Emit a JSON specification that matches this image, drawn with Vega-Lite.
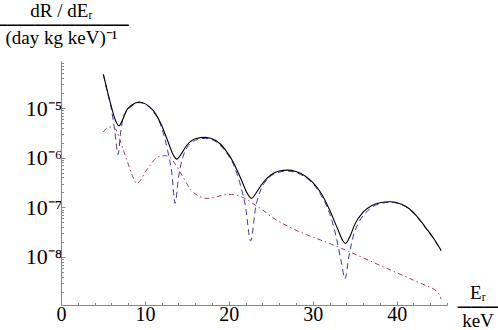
{
  "$schema": "https://vega.github.io/schema/vega-lite/v6.json",
  "width": 386,
  "height": 244,
  "autosize": {"type": "none"},
  "padding": {"left": 61, "top": 61, "right": 51, "bottom": 25},
  "background": "white",
  "config": {"view": {"stroke": null}, "axisY": {"labelFontSize": 22}},
  "datasets": {
    "total": [
      {"E": 5.05, "rate": 4.79e-5}, {"E": 5.5, "rate": 2.29e-5}, {"E": 6.0, "rate": 1.07e-5}, {"E": 6.5, "rate": 5.62e-6},
      {"E": 6.9, "rate": 4.37e-6}, {"E": 7.3, "rate": 5.62e-6}, {"E": 7.8, "rate": 8.91e-6}, {"E": 8.5, "rate": 1.17e-5},
      {"E": 9.3, "rate": 1.32e-5}, {"E": 10.0, "rate": 1.23e-5}, {"E": 11.0, "rate": 8.91e-6}, {"E": 12.0, "rate": 4.47e-6},
      {"E": 12.8, "rate": 2.0e-6}, {"E": 13.4, "rate": 1.12e-6}, {"E": 13.8, "rate": 9.33e-7}, {"E": 14.3, "rate": 1.17e-6},
      {"E": 15.0, "rate": 1.78e-6}, {"E": 16.0, "rate": 2.40e-6}, {"E": 17.2, "rate": 2.57e-6}, {"E": 18.5, "rate": 2.19e-6},
      {"E": 19.5, "rate": 1.51e-6}, {"E": 20.5, "rate": 8.32e-7}, {"E": 21.5, "rate": 3.55e-7}, {"E": 22.2, "rate": 1.91e-7},
      {"E": 22.7, "rate": 1.51e-7}, {"E": 23.3, "rate": 2.0e-7}, {"E": 24.0, "rate": 3.02e-7}, {"E": 25.0, "rate": 4.47e-7},
      {"E": 26.0, "rate": 5.37e-7}, {"E": 27.0, "rate": 5.62e-7}, {"E": 28.0, "rate": 5.25e-7}, {"E": 29.0, "rate": 4.37e-7},
      {"E": 30.0, "rate": 3.16e-7}, {"E": 31.0, "rate": 1.91e-7}, {"E": 32.0, "rate": 8.91e-8}, {"E": 33.0, "rate": 3.55e-8},
      {"E": 33.6, "rate": 2.09e-8}, {"E": 33.9, "rate": 1.86e-8}, {"E": 34.4, "rate": 2.51e-8}, {"E": 35.0, "rate": 4.47e-8},
      {"E": 36.0, "rate": 7.94e-8}, {"E": 37.0, "rate": 1.07e-7}, {"E": 38.0, "rate": 1.23e-7}, {"E": 39.2, "rate": 1.29e-7},
      {"E": 40.5, "rate": 1.17e-7}, {"E": 41.5, "rate": 9.33e-8}, {"E": 42.5, "rate": 6.31e-8}, {"E": 43.5, "rate": 3.80e-8},
      {"E": 44.5, "rate": 2.24e-8}, {"E": 45.3, "rate": 1.35e-8}
    ],
    "dashed": [
      {"E": 5.05, "rate": 4.68e-5}, {"E": 5.5, "rate": 2.19e-5}, {"E": 6.0, "rate": 9.55e-6}, {"E": 6.4, "rate": 3.55e-6},
      {"E": 6.8, "rate": 1.15e-6}, {"E": 7.1, "rate": 3.16e-6}, {"E": 7.4, "rate": 6.31e-6}, {"E": 7.8, "rate": 8.51e-6},
      {"E": 8.5, "rate": 1.12e-5}, {"E": 9.3, "rate": 1.29e-5}, {"E": 10.0, "rate": 1.20e-5}, {"E": 11.0, "rate": 8.51e-6},
      {"E": 12.0, "rate": 3.98e-6}, {"E": 12.7, "rate": 1.41e-6}, {"E": 13.2, "rate": 5.01e-7}, {"E": 13.6, "rate": 1.20e-7},
      {"E": 14.0, "rate": 3.98e-7}, {"E": 14.5, "rate": 1.0e-6}, {"E": 15.0, "rate": 1.58e-6}, {"E": 16.0, "rate": 2.24e-6},
      {"E": 17.2, "rate": 2.45e-6}, {"E": 18.5, "rate": 2.09e-6}, {"E": 19.5, "rate": 1.41e-6}, {"E": 20.5, "rate": 7.59e-7},
      {"E": 21.3, "rate": 3.16e-7}, {"E": 22.0, "rate": 1.0e-7}, {"E": 22.6, "rate": 2.09e-8}, {"E": 23.2, "rate": 1.0e-7},
      {"E": 23.8, "rate": 2.24e-7}, {"E": 24.5, "rate": 3.55e-7}, {"E": 25.5, "rate": 4.79e-7}, {"E": 27.0, "rate": 5.37e-7},
      {"E": 28.0, "rate": 5.01e-7}, {"E": 29.0, "rate": 4.17e-7}, {"E": 30.0, "rate": 3.02e-7}, {"E": 31.0, "rate": 1.74e-7},
      {"E": 32.0, "rate": 7.59e-8}, {"E": 32.8, "rate": 2.51e-8}, {"E": 33.4, "rate": 7.94e-9}, {"E": 33.85, "rate": 3.63e-9},
      {"E": 34.3, "rate": 1.0e-8}, {"E": 34.8, "rate": 2.51e-8}, {"E": 35.5, "rate": 5.01e-8}, {"E": 36.5, "rate": 8.32e-8},
      {"E": 37.5, "rate": 1.10e-7}, {"E": 39.2, "rate": 1.26e-7}, {"E": 40.5, "rate": 1.15e-7}, {"E": 41.5, "rate": 9.12e-8},
      {"E": 42.5, "rate": 6.17e-8}, {"E": 43.5, "rate": 3.72e-8}, {"E": 44.5, "rate": 2.19e-8}, {"E": 45.3, "rate": 1.32e-8}
    ],
    "dotdashed": [
      {"E": 5.05, "rate": 3.31e-6}, {"E": 5.5, "rate": 3.98e-6}, {"E": 6.0, "rate": 4.17e-6}, {"E": 6.5, "rate": 3.80e-6},
      {"E": 7.0, "rate": 2.34e-6}, {"E": 7.5, "rate": 1.32e-6}, {"E": 8.0, "rate": 7.59e-7}, {"E": 8.5, "rate": 4.37e-7},
      {"E": 9.0, "rate": 3.02e-7}, {"E": 9.5, "rate": 3.55e-7}, {"E": 10.0, "rate": 5.01e-7}, {"E": 10.6, "rate": 6.92e-7},
      {"E": 11.2, "rate": 9.33e-7}, {"E": 11.8, "rate": 1.07e-6}, {"E": 12.4, "rate": 1.10e-6}, {"E": 13.0, "rate": 1.0e-6},
      {"E": 13.7, "rate": 7.08e-7}, {"E": 14.5, "rate": 4.17e-7}, {"E": 15.5, "rate": 2.24e-7}, {"E": 16.5, "rate": 1.66e-7},
      {"E": 17.4, "rate": 1.51e-7}, {"E": 18.5, "rate": 1.62e-7}, {"E": 19.5, "rate": 1.78e-7}, {"E": 20.3, "rate": 1.82e-7},
      {"E": 21.0, "rate": 1.74e-7}, {"E": 22.0, "rate": 1.48e-7}, {"E": 23.0, "rate": 1.15e-7}, {"E": 24.0, "rate": 8.91e-8},
      {"E": 25.0, "rate": 6.61e-8}, {"E": 26.0, "rate": 5.13e-8}, {"E": 27.0, "rate": 4.17e-8}, {"E": 28.5, "rate": 3.16e-8},
      {"E": 30.0, "rate": 2.51e-8}, {"E": 32.0, "rate": 1.86e-8}, {"E": 34.0, "rate": 1.35e-8}, {"E": 36.0, "rate": 9.55e-9},
      {"E": 38.0, "rate": 6.76e-9}, {"E": 40.0, "rate": 4.79e-9}, {"E": 42.0, "rate": 3.39e-9}, {"E": 43.5, "rate": 2.63e-9},
      {"E": 44.5, "rate": 2.19e-9}, {"E": 45.0, "rate": 1.82e-9}, {"E": 45.3, "rate": 1.41e-9}
    ]
  },
  "encoding": {
    "x": {
      "field": "E", "type": "quantitative",
      "scale": {"domain": [0, 46], "nice": false, "zero": false},
      "axis": {
        "values": [0, 2, 4, 6, 8, 10, 12, 14, 16, 18, 20, 22, 24, 26, 28, 30, 32, 34, 36, 38, 40, 42, 44, 46],
        "labelExpr": "datum.value % 10 === 0 ? datum.label : ''",
        "labelOverlap": false, "labelFlush": false,
        "grid": false,
        "domainColor": "#888888", "tickColor": "#888888",
        "tickSize": {"condition": {"test": "datum.value % 10 === 0", "value": -4}, "value": -2.5},
        "labelFont": "Liberation Serif", "labelFontSize": 20, "labelColor": "black", "labelPadding": 3,
        "title": ["Eᵣ", "───", "keV"],
        "titleFont": "Liberation Serif", "titleFontSize": 19, "titleFontWeight": "normal", "titleColor": "black",
        "titleAngle": 0, "titleAlign": "center", "titleBaseline": "top", "titleLineHeight": 14.2,
        "titleX": 416.5, "titleY": -21.5
      }
    },
    "y": {
      "field": "rate", "type": "quantitative",
      "scale": {"type": "log", "domain": [1.07e-9, 8.9e-5], "nice": false},
      "axis": {
        "values": [2e-9, 3e-9, 4e-9, 5e-9, 6e-9, 7e-9, 8e-9, 9e-9, 1e-8, 2e-8, 3e-8, 4e-8, 5e-8, 6e-8, 7e-8, 8e-8, 9e-8, 1e-7, 2e-7, 3e-7, 4e-7, 5e-7, 6e-7, 7e-7, 8e-7, 9e-7, 1e-6, 2e-6, 3e-6, 4e-6, 5e-6, 6e-6, 7e-6, 8e-6, 9e-6, 1e-5, 2e-5, 3e-5, 4e-5, 5e-5, 6e-5, 7e-5, 8e-5],
        "labelExpr": "abs(log(datum.value)/LN10 - round(log(datum.value)/LN10)) < 0.001 ? (round(log(datum.value)/LN10) == -5 ? '10⁻⁵' : round(log(datum.value)/LN10) == -6 ? '10⁻⁶' : round(log(datum.value)/LN10) == -7 ? '10⁻⁷' : round(log(datum.value)/LN10) == -8 ? '10⁻⁸' : '') : ''",
        "labelOverlap": false, "labelFlush": false,
        "grid": false,
        "domainColor": "#888888", "tickColor": "#888888",
        "tickSize": {"condition": {"test": "abs(log(datum.value)/LN10 - round(log(datum.value)/LN10)) < 0.001", "value": -4}, "value": -2.5},
        "labelFont": "Liberation Serif", "labelFontSize": 22, "labelColor": "black", "labelPadding": 3,
        "title": ["dR / dEᵣ", "──────────", "(day kg keV)⁻¹"],
        "titleFont": "Liberation Serif", "titleFontSize": 19, "titleFontWeight": "normal", "titleColor": "black",
        "titleAngle": 0, "titleAlign": "center", "titleBaseline": "top", "titleLineHeight": 13.5,
        "titleX": 0, "titleY": -59.5
      }
    }
  },
  "layer": [
    {
      "data": {"name": "dotdashed"},
      "mark": {"type": "line", "interpolate": "monotone", "color": "#993d71", "strokeWidth": 1, "strokeDash": [5, 3, 1.5, 3], "clip": true}
    },
    {
      "data": {"name": "dashed"},
      "mark": {"type": "line", "interpolate": "monotone", "color": "#3d3d99", "strokeWidth": 1, "strokeDash": [6, 4], "clip": true}
    },
    {
      "data": {"name": "total"},
      "mark": {"type": "line", "interpolate": "monotone", "color": "black", "strokeWidth": 1.1, "clip": true}
    }
  ]
}
